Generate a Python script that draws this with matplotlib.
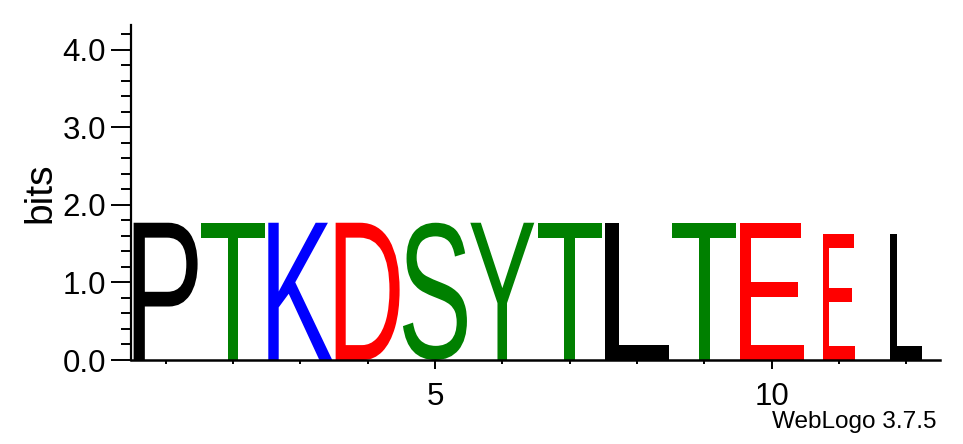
import matplotlib
matplotlib.use("Agg")
import matplotlib.pyplot as plt
from matplotlib.textpath import TextPath
from matplotlib.patches import PathPatch
from matplotlib.font_manager import FontProperties
from matplotlib.transforms import Affine2D
from matplotlib.ticker import FixedLocator, MultipleLocator, FormatStrFormatter

positions = [1, 2, 3, 4, 5, 6, 7, 8, 9, 10, 11, 12]
letters = ["P", "T", "K", "D", "S", "Y", "T", "L", "T", "E", "E", "L"]
heights = [1.77, 1.77, 1.77, 1.77, 1.77, 1.77, 1.77, 1.77, 1.77, 1.77, 1.63, 1.63]
col_weights = [1.0, 1.0, 1.0, 1.0, 1.0, 1.0, 1.0, 1.0, 1.0, 1.0, 0.5, 0.5]
y_major = [0, 1, 2, 3, 4]
x_major = [5, 10]

# ---- styles ----
letter_colors = {
    "P": "#000000", "L": "#000000",
    "T": "#008000", "S": "#008000", "Y": "#008000",
    "K": "#0000ff",
    "D": "#ff0000", "E": "#ff0000",
}
FONT = "Liberation Sans"
plt.rcParams["font.family"] = [FONT, "DejaVu Sans"]

fig = plt.figure(figsize=(9.63, 4.44), dpi=100)
ax = fig.add_axes([131 / 963, 84 / 444, (940 - 131) / 963, (360 - 25) / 444])

fp = FontProperties(family=FONT)
for x, ch, h, wgt in zip(positions, letters, heights, col_weights):
    tp = TextPath((0, 0), ch, size=1, prop=fp)
    bb = tp.get_extents()
    w = 0.95 * wgt
    tr = (Affine2D()
          .translate(-bb.x0, -bb.y0)
          .scale(w / bb.width, h / bb.height)
          .translate(x - w / 2, 0))
    path = tr.transform_path(tp)
    ax.add_patch(PathPatch(path, facecolor=letter_colors[ch], edgecolor="none",
                           transform=ax.transData, zorder=2))

ax.set_xlim(0.486, 12.5)
ax.set_ylim(0, 4.32)

for s in ("top", "right"):
    ax.spines[s].set_visible(False)
ax.spines["left"].set_linewidth(1.6)
ax.spines["bottom"].set_linewidth(1.8)
ax.spines["bottom"].set_zorder(3)

ax.yaxis.set_major_locator(FixedLocator(y_major))
ax.yaxis.set_minor_locator(MultipleLocator(0.2))
ax.yaxis.set_major_formatter(FormatStrFormatter("%.1f"))
ax.tick_params(axis="y", which="major", direction="out", length=14.5, width=1.4,
               labelsize=22.5, pad=3.5)
ax.tick_params(axis="y", which="minor", direction="out", length=7.5, width=1.4)

ax.xaxis.set_major_locator(FixedLocator(x_major))
ax.xaxis.set_minor_locator(FixedLocator(positions))
ax.tick_params(axis="x", which="major", direction="out", length=6.5, width=1.4,
               labelsize=22.5, pad=9)
ax.tick_params(axis="x", which="minor", direction="out", length=3.2, width=1.4)

ax.set_ylabel("bits", fontsize=28)
ax.yaxis.set_label_coords(-0.090, 0.5)

fig.text(936 / 963, (444 - 428) / 444, "WebLogo 3.7.5", ha="right", va="baseline",
         fontsize=17.6)

fig.savefig("out.png", dpi=100)
